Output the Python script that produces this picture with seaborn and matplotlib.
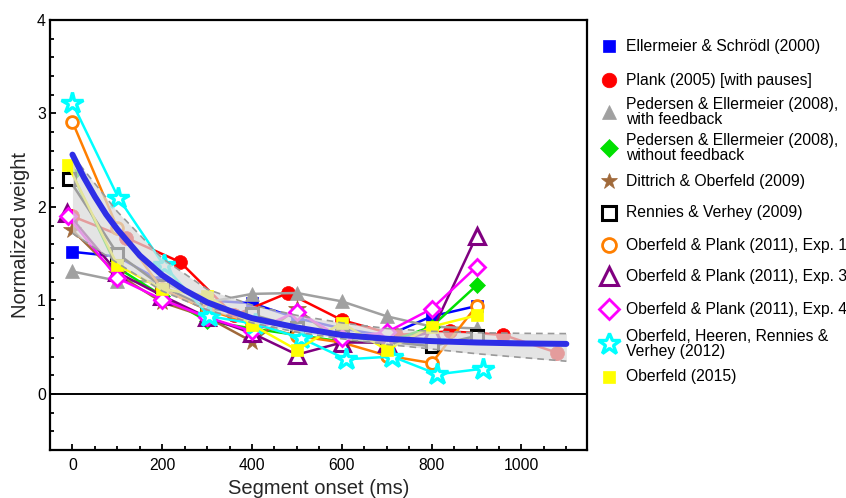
import numpy as np
import pandas as pd
import matplotlib
matplotlib.use("Agg")
import matplotlib.pyplot as plt
from matplotlib.lines import Line2D
from matplotlib.ticker import MultipleLocator
import seaborn as sns

# ---------------- data ----------------
onset = [0, 100, 200, 300, 400, 500, 600, 700, 800, 900]

ellermeier_x = onset
ellermeier_y = [1.52, 1.47, 1.20, 1.00, 0.97, 0.81, 0.70, 0.62, 0.83, 0.94]

plank_x = [0, 120, 240, 360, 480, 600, 720, 840, 960, 1080]
plank_y = [1.90, 1.67, 1.41, 0.84, 1.08, 0.79, 0.63, 0.67, 0.63, 0.44]

ped_fb_x = onset
ped_fb_y = [1.31, 1.21, 1.20, 0.98, 1.07, 1.08, 0.99, 0.83, 0.72, 0.70]

ped_nofb_x = onset
ped_nofb_y = [2.35, 1.35, 1.05, 0.78, 0.70, 0.63, 0.56, 0.55, 0.72, 1.16]

dittrich_x = [0, 100, 200, 300, 400, 500, 600]
dittrich_y = [1.75, 1.28, 0.98, 0.82, 0.56, 0.91, 0.53]

rennies_x = [-8, 100, 200, 300, 400, 500, 600, 700, 800, 900]
rennies_y = [2.30, 1.50, 1.15, 0.92, 0.85, 0.71, 0.62, 0.56, 0.51, 0.62]

op1_x = onset
op1_y = [2.91, 1.78, 1.12, 0.90, 0.75, 0.62, 0.55, 0.41, 0.33, 0.94]

op3_x = [-12, 100, 200, 300, 400, 500, 600, 700, 800, 900]
op3_y = [1.94, 1.30, 1.05, 0.82, 0.65, 0.42, 0.55, 0.55, 0.66, 1.69]

op4_x = [-10, 100, 200, 300, 400, 500, 600, 700, 800, 900]
op4_y = [1.90, 1.24, 1.01, 0.82, 0.67, 0.88, 0.60, 0.66, 0.91, 1.36]

ohrv_x = [0, 102, 203, 305, 407, 508, 610, 712, 813, 915]
ohrv_y = [3.11, 2.10, 1.38, 0.83, 0.75, 0.60, 0.37, 0.40, 0.21, 0.27]

ob15_x = [-10, 100, 200, 300, 400, 500, 600, 700, 800, 900]
ob15_y = [2.45, 1.38, 1.12, 1.05, 0.74, 0.47, 0.76, 0.47, 0.72, 0.84]

# fitted curve (read at several onsets)
fit_x = [0, 25, 50, 75, 100, 150, 200, 250, 300, 350, 400, 500, 600, 700, 800, 900, 1000, 1100]
fit_y = [2.56, 2.32, 2.11, 1.92, 1.76, 1.48, 1.27, 1.11, 0.98, 0.89, 0.81, 0.71, 0.63, 0.59, 0.565, 0.55, 0.54, 0.535]

# band around the fit
band_x = [0, 50, 100, 200, 300, 400, 500, 600, 700, 800, 900, 1000, 1100]
band_lo = [1.72, 1.56, 1.40, 1.10, 0.90, 0.76, 0.66, 0.59, 0.53, 0.48, 0.43, 0.39, 0.35]
band_hi = [2.55, 2.25, 1.95, 1.45, 1.12, 0.95, 0.84, 0.76, 0.70, 0.67, 0.655, 0.648, 0.645]

labels = [
    "Ellermeier & Schrödl (2000)",
    "Plank (2005) [with pauses]",
    "Pedersen & Ellermeier (2008),\nwith feedback",
    "Pedersen & Ellermeier (2008),\nwithout feedback",
    "Dittrich & Oberfeld (2009)",
    "Rennies & Verhey (2009)",
    "Oberfeld & Plank (2011), Exp. 1",
    "Oberfeld & Plank (2011), Exp. 3",
    "Oberfeld & Plank (2011), Exp. 4",
    "Oberfeld, Heeren, Rennies &\nVerhey (2012)",
    "Oberfeld (2015)",
]

x_ticks = [0, 200, 400, 600, 800, 1000]
y_ticks = [0, 1, 2, 3, 4]

# ---------------- styling ----------------
sns.set_theme(style="ticks")
plt.rcParams['font.family'] = ['Liberation Sans', 'DejaVu Sans']

series = [
    # x, y, color, marker, ms, mfc, mew
    (ellermeier_x, ellermeier_y, "#0000FF", "s", 8.6, "#0000FF", 0.5),
    (plank_x, plank_y, "#FF0000", "o", 10.0, "#FF0000", 0.5),
    (ped_fb_x, ped_fb_y, "#A0A0A0", "^", 10.0, "#A0A0A0", 0.5),
    (ped_nofb_x, ped_nofb_y, "#00E000", "D", 8.0, "#00E000", 0.5),
    (dittrich_x, dittrich_y, "#A0693A", "*", 13.0, "#A0693A", 0.5),
    (rennies_x, rennies_y, "#000000", "s", 8.5, "white", 2.2),
    (op1_x, op1_y, "#FF7F00", "o", 8.5, "white", 2.0),
    (op3_x, op3_y, "#800080", "^", 11.0, "white", 2.2),
    (op4_x, op4_y, "#FF00FF", "D", 8.5, "white", 2.0),
    (ohrv_x, ohrv_y, "#00FFFF", "*", 16.0, "white", 2.4),
    (ob15_x, ob15_y, "#FFFF00", "s", 9.2, "#FFFF00", 0.5),
]

fig = plt.figure(figsize=(8.46, 4.98), dpi=100)
ax = fig.add_axes([50 / 846, 48 / 498, 537 / 846, 430 / 498])

ax.axhline(0, color="black", lw=1.4, zorder=1)

for i, (xs, ys, c, m, ms, mfc, mew) in enumerate(series):
    sns.lineplot(x=xs, y=ys, ax=ax, color=c, marker=m, markersize=ms,
                 markerfacecolor=mfc, markeredgecolor=c, markeredgewidth=mew,
                 linewidth=1.8, estimator=None, sort=False, legend=False,
                 zorder=2 + i * 0.01)

# band (drawn over the data, semi transparent)
ax.fill_between(band_x, band_lo, band_hi, color="#DADADA", alpha=0.72,
                lw=0, zorder=3)
sns.lineplot(x=band_x, y=band_lo, ax=ax, color="#999999", lw=1.2,
             linestyle=(0, (4, 3)), estimator=None, sort=False, zorder=3.1)
sns.lineplot(x=band_x, y=band_hi, ax=ax, color="#999999", lw=1.2,
             linestyle=(0, (4, 3)), estimator=None, sort=False, zorder=3.1)

# fitted curve
sns.lineplot(x=fit_x, y=fit_y, ax=ax, color="#2E2EE6", lw=4.3,
             estimator=None, sort=False, zorder=4)

ax.set_xlim(-50, 1146)
ax.set_ylim(-0.6, 4)
ax.set_xticks(x_ticks)
ax.set_yticks(y_ticks)
ax.xaxis.set_minor_locator(MultipleLocator(50))
ax.yaxis.set_minor_locator(MultipleLocator(0.2))
ax.tick_params(axis="both", which="both", direction="in", top=False,
               right=False, width=1.3, colors="black", labelsize=11.3)
ax.tick_params(axis="both", which="major", length=4)
ax.tick_params(axis="both", which="minor", length=2.8)
ax.tick_params(axis="x", which="major", pad=6)
ax.tick_params(axis="y", which="major", pad=3)
for s in ax.spines.values():
    s.set_visible(True)
    s.set_color("black")
    s.set_linewidth(1.6)
ax.set_facecolor("white")
ax.grid(False)

ax.set_xlabel("Segment onset (ms)", fontsize=14.5, labelpad=4)
ax.set_ylabel("Normalized weight", fontsize=14.5, labelpad=5)

# ---------------- legend (uniform row pitch) ----------------
row_y = [46, 80, 112, 148, 181, 213, 245, 276, 309, 344, 377]
leg_ms = [9, 10.5, 10, 9, 12, 9.5, 10, 12.5, 10, 16.5, 9]
mx = 609 / 846
tx = 626 / 846
for (xs, ys, c, m, ms, mfc, mew), lab, yy, lms in zip(series, labels, row_y, leg_ms):
    yf = 1 - yy / 498
    fig.add_artist(Line2D([mx], [yf], transform=fig.transFigure, marker=m,
                          markersize=lms, markerfacecolor=mfc,
                          markeredgecolor=c, markeredgewidth=mew if mew > 1 else 0.5,
                          linestyle="none"))
    fig.text(tx, yf, lab, fontsize=11.3, va="center", ha="left",
             linespacing=0.95, color="black")

fig.savefig("out.png", dpi=100, facecolor="white")
